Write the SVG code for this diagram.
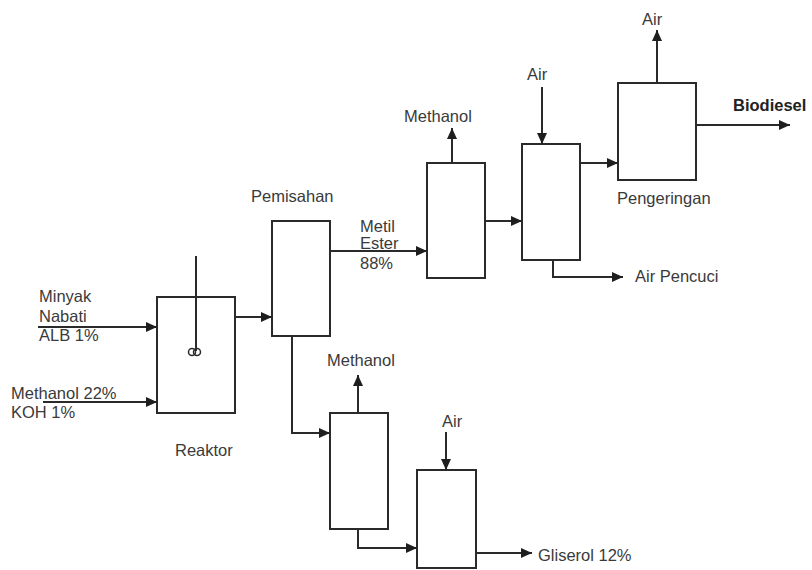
<svg xmlns="http://www.w3.org/2000/svg" width="812" height="570" viewBox="0 0 812 570">
  <defs>
    <marker id="arrow" markerUnits="userSpaceOnUse" markerWidth="12" markerHeight="10" refX="11" refY="5" orient="auto">
      <path d="M0,0 L11,5 L0,10 Z" fill="#1e1e1e"/>
    </marker>
  </defs>
  <style>
    .unit { fill: #ffffff; stroke: #2a2a2a; stroke-width: 2; }
    .flow { fill: none; stroke: #2a2a2a; stroke-width: 2; marker-end: url(#arrow); }
    .plain { fill: none; stroke: #2a2a2a; stroke-width: 2; }
    text { font-family: "Liberation Sans", Arial, sans-serif; font-size: 16.5px; fill: #3a3a3a; }
    .bold { font-weight: bold; fill: #222222; }
  </style>
  <rect x="0" y="0" width="812" height="570" fill="#ffffff"/>

  <!-- process units -->
  <g id="reaktor">
    <rect class="unit" x="157" y="297" width="78" height="116"/>
    <line class="plain" x1="196" y1="256" x2="196" y2="351"/>
    <circle cx="192" cy="352" r="3.5" fill="none" stroke="#2a2a2a" stroke-width="1.5"/>
    <circle cx="197" cy="352" r="3.5" fill="none" stroke="#2a2a2a" stroke-width="1.5"/>
    <text x="175" y="456">Reaktor</text>
  </g>
  <g id="pemisahan">
    <rect class="unit" x="272" y="221" width="58" height="115"/>
    <text x="251" y="202">Pemisahan</text>
  </g>
  <g id="evaporator-ester">
    <rect class="unit" x="427" y="163" width="58" height="115"/>
  </g>
  <g id="pencucian">
    <rect class="unit" x="522" y="144" width="58" height="116"/>
  </g>
  <g id="pengeringan">
    <rect class="unit" x="618" y="83" width="78" height="97"/>
    <text x="617" y="204">Pengeringan</text>
  </g>
  <g id="evaporator-gliserol">
    <rect class="unit" x="330" y="413" width="58" height="116"/>
  </g>
  <g id="pemurnian-gliserol">
    <rect class="unit" x="417" y="470" width="59" height="98"/>
  </g>

  <!-- streams -->
  <g id="connectors">
    <path class="flow" d="M38,327 H157"/>
    <path class="flow" d="M43,402 H157"/>
    <path class="flow" d="M235,317 H272"/>
    <path class="flow" d="M330,251 H427"/>
    <path class="flow" d="M452,163 V128"/>
    <path class="flow" d="M485,221 H522"/>
    <path class="flow" d="M542,87 V144"/>
    <path class="flow" d="M553,260 V277 H623"/>
    <path class="flow" d="M580,163 H618"/>
    <path class="flow" d="M657,83 V30"/>
    <path class="flow" d="M696,125 H790"/>
    <path class="flow" d="M292,336 V433 H330"/>
    <path class="flow" d="M358,413 V375"/>
    <path class="flow" d="M358,529 V548 H417"/>
    <path class="flow" d="M446,432 V470"/>
    <path class="flow" d="M476,553 H532"/>
  </g>

  <!-- stream labels -->
  <g id="labels">
    <text x="39" y="302">Minyak</text>
    <text x="39" y="322">Nabati</text>
    <text x="39" y="341">ALB 1%</text>
    <text x="11" y="399">Methanol 22%</text>
    <text x="11" y="418">KOH 1%</text>
    <text x="360" y="232">Metil</text>
    <text x="360" y="249">Ester</text>
    <text x="360" y="269">88%</text>
    <text x="404" y="122">Methanol</text>
    <text x="527" y="80">Air</text>
    <text x="642" y="25">Air</text>
    <text class="bold" x="733" y="111">Biodiesel</text>
    <text x="635" y="282">Air Pencuci</text>
    <text x="327" y="366">Methanol</text>
    <text x="442" y="427">Air</text>
    <text x="538" y="561">Gliserol 12%</text>
  </g>
</svg>
